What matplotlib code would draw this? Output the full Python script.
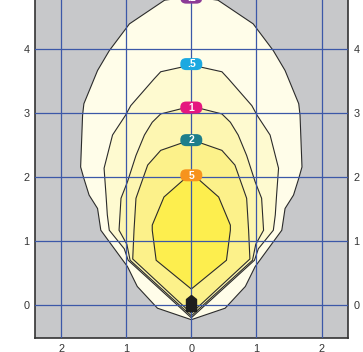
import matplotlib
matplotlib.use("Agg")
import matplotlib.pyplot as plt
from matplotlib.patches import FancyBboxPatch
from matplotlib.path import Path

plt.rcParams['font.family'] = ['Liberation Sans', 'DejaVu Sans']

levels = [0.2, 0.5, 1, 2, 5]
level_labels = [".2", ".5", "1", "2", "5"]
label_colors = ["#8c3b97", "#1ba9e1", "#e5177f", "#1d7e8b", "#f7931d"]
fill_colors = ["#fffde9", "#fefad0", "#fdf6b1", "#fcf18a", "#fdee4e"]

# right half of each isolux line, top of the curve down to the bottom (mirrored for the left)
iso_02_x = [0.00, 0.20, 0.41, 0.95, 1.26, 1.44, 1.65, 1.67, 1.70, 1.65, 1.57, 1.44, 1.39, 0.98, 0.83, 0.52, 0.00]
iso_02_y = [4.81, 4.80, 4.77, 4.40, 3.98, 3.67, 3.15, 2.97, 2.16, 1.98, 1.72, 1.51, 1.17, 0.60, 0.29, -0.05, -0.23]

iso_05_x = [0.00, 0.16, 0.47, 0.57, 0.93, 1.01, 1.21, 1.34, 1.33, 1.31, 1.29, 1.26, 1.03, 0.97, 0.00]
iso_05_y = [3.77, 3.72, 3.65, 3.54, 3.12, 2.97, 2.66, 2.14, 2.00, 1.72, 1.41, 1.17, 0.88, 0.70, -0.20]

iso_1_x = [0.00, 0.16, 0.47, 0.60, 0.72, 0.85, 0.98, 1.08, 1.11, 0.99, 0.94, 0.00]
iso_1_y = [3.09, 3.07, 2.99, 2.86, 2.66, 2.34, 1.93, 1.67, 1.17, 0.95, 0.70, -0.17]

iso_2_x = [0.00, 0.16, 0.47, 0.67, 0.85, 0.88, 0.90, 0.00]
iso_2_y = [2.58, 2.53, 2.42, 2.19, 1.67, 1.17, 0.72, -0.13]

iso_5_x = [0.00, 0.13, 0.42, 0.60, 0.60, 0.54, 0.00]
iso_5_y = [2.03, 1.95, 1.69, 1.25, 1.17, 0.70, 0.25]

iso_x = [iso_02_x, iso_05_x, iso_1_x, iso_2_x, iso_5_x]
iso_y = [iso_02_y, iso_05_y, iso_1_y, iso_2_y, iso_5_y]

luminaire_x = [0.0]
luminaire_y = [0.0]

x_ticks = [-2, -1, 0, 1, 2]
x_tick_labels = ["2", "1", "0", "1", "2"]
y_ticks = [0, 1, 2, 3, 4]


def mirror(xs, ys):
    # close the half curve by reflecting it about x = 0
    full_x = list(xs) + [-v for v in reversed(xs[1:-1])]
    full_y = list(ys) + list(reversed(ys[1:-1]))
    return full_x, full_y


fig = plt.figure(figsize=(3.63, 3.52), dpi=100)
ax = fig.add_axes([0.0964, 0.0406, 0.8623, 1.0006])
ax.set_facecolor("#c7c8ca")

for i, (xs, ys) in enumerate(zip(iso_x, iso_y)):
    fx, fy = mirror(xs, ys)
    ax.fill(fx, fy, facecolor=fill_colors[i], edgecolor="#2b2b2b", linewidth=0.8, zorder=1 + i * 0.01)

# level tags sitting on the top of each curve
box_w, box_h = 0.338, 0.188
for i, (xs, ys) in enumerate(zip(iso_x, iso_y)):
    cx, cy = xs[0], ys[0]
    box = FancyBboxPatch((cx - box_w / 2, cy - box_h / 2), box_w, box_h,
                         boxstyle="round,pad=0,rounding_size=0.09",
                         facecolor=label_colors[i], edgecolor="none", zorder=5)
    ax.add_patch(box)
    ax.text(cx, cy - 0.005, level_labels[i], color="white", fontsize=7.5, fontweight="bold",
            ha="center", va="center", zorder=6)

# luminaire symbol
lum_path = Path([(-5, -6), (5, -6), (5, 6), (0, 10), (-5, 6), (-5, -6)],
                [Path.MOVETO, Path.LINETO, Path.LINETO, Path.LINETO, Path.LINETO, Path.CLOSEPOLY])
ax.plot(luminaire_x, luminaire_y, linestyle="none", marker=lum_path, markersize=14.4,
        color="#1e1e1e", zorder=7)

ax.set_xlim(-2.401, 2.407)
ax.set_ylim(-0.512, 5.0)
ax.set_xticks(x_ticks)
ax.set_xticklabels(x_tick_labels)
ax.set_yticks(y_ticks)

ax.set_axisbelow(False)
ax.grid(True, color="#3c58a8", linewidth=0.9)
ax.tick_params(axis="both", length=0, labelsize=7.8, labelcolor="#333333")
ax.tick_params(axis="x", pad=4.3)
ax.tick_params(axis="y", left=True, right=True, labelleft=True, labelright=True, pad=4)

for side in ["left", "right", "bottom"]:
    ax.spines[side].set_color("#333333")
    ax.spines[side].set_linewidth(1.2)
ax.spines["top"].set_visible(False)

fig.savefig("out.png", dpi=100)
